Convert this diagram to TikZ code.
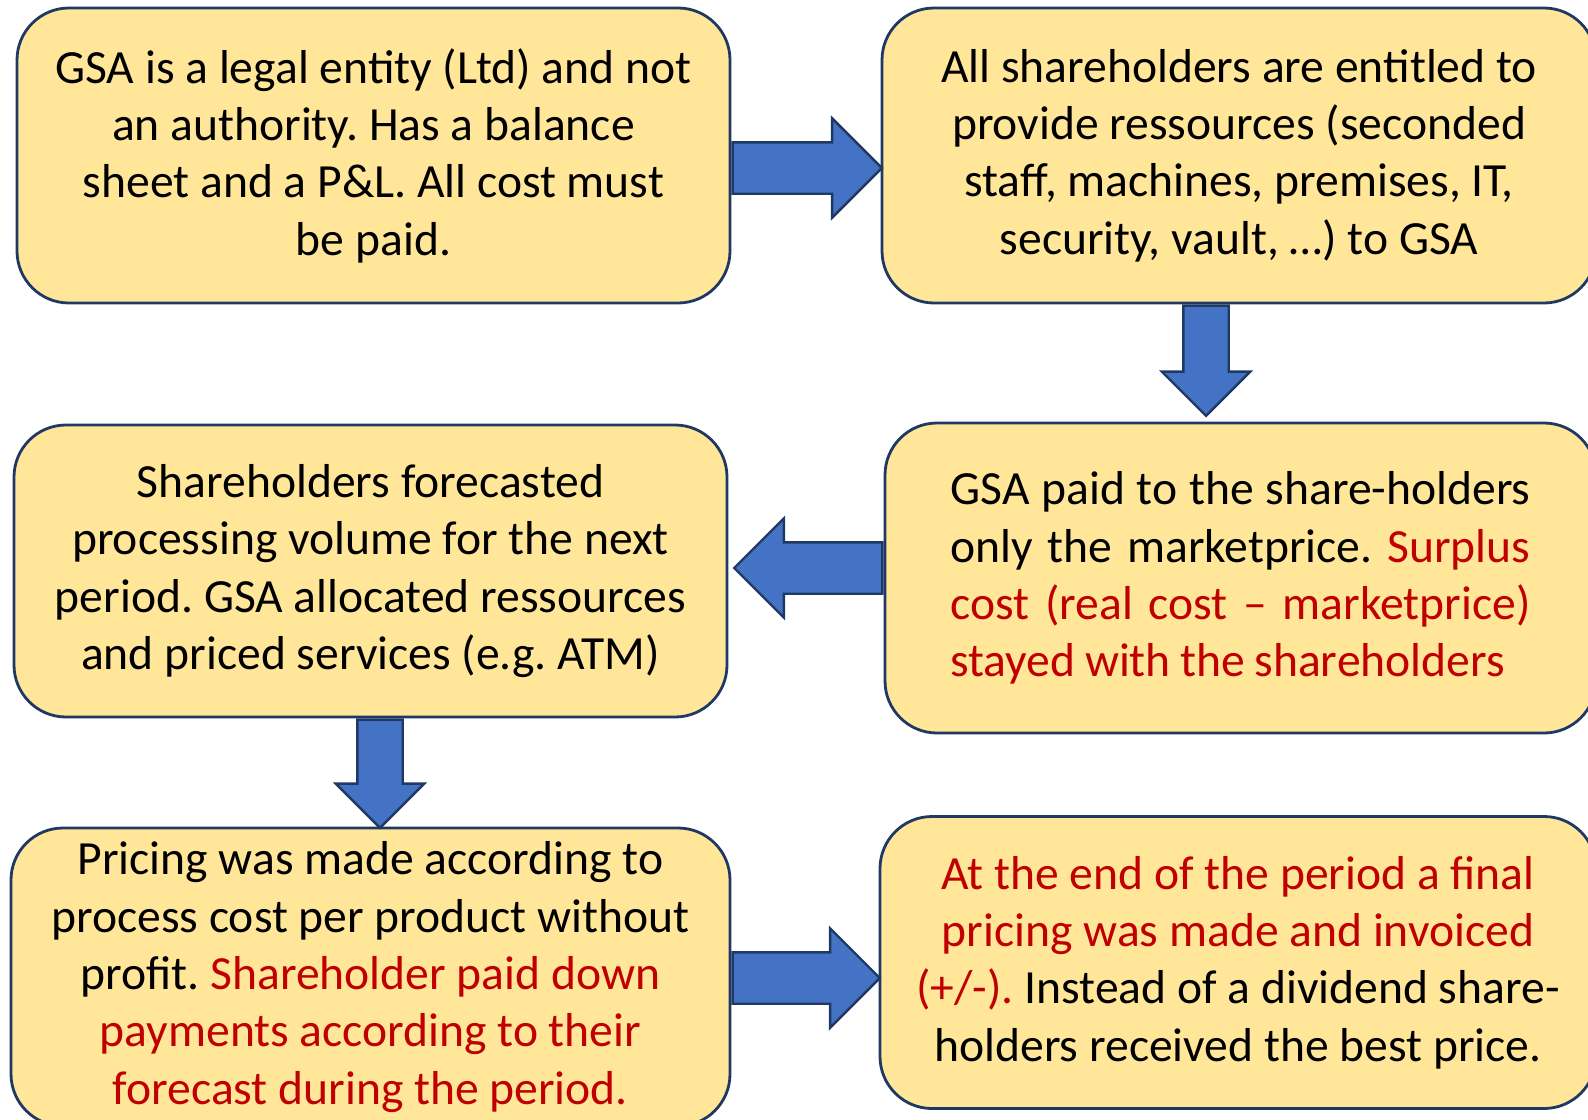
\documentclass[tikz,border=0pt]{standalone}
\usepackage{fontspec}
\setmainfont{Carlito}
\frenchspacing
\usetikzlibrary{shapes.arrows,calc}

\definecolor{cardfill}{HTML}{FFE699}
\definecolor{cardline}{HTML}{203864}
\definecolor{arrowfill}{HTML}{4472C4}
\definecolor{hilite}{HTML}{C00000}
\newcommand{\redtxt}[1]{\textcolor{hilite}{#1}}

% block arrow from tail #2 to tip #3
\newcommand{\flowarrow}[3][]{%
  \path let \p1=(#2), \p2=(#3),
    \n1={atan2(\y2-\y1,\x2-\x1)}, \n2={veclen(\x2-\x1,\y2-\y1)} in
    node[blockarrow, #1, minimum height=\n2, rotate=\n1, anchor=tail] at (\p1) {};}

\begin{document}
\begin{tikzpicture}[
  x=0.5pt,y=-0.5pt,
  card/.style={draw=cardline, fill=cardfill, line width=1.4pt, rounded corners=26pt,
    align=center, inner sep=0pt, minimum width=357pt,
    font=\fontsize{23.8pt}{28.65pt}\selectfont},
  blockarrow/.style={single arrow, draw=cardline, fill=arrowfill, line width=1.2pt,
    inner xsep=0pt, inner ysep=12.25pt, minimum width=0pt,
    single arrow head extend=12pt, single arrow tip angle=90},
  thinarrow/.style={inner ysep=10.75pt, single arrow head extend=10.75pt}
]
\useasboundingbox (0,0) rectangle (1588,1119);
\clip (0,0) rectangle (1588,1119);

\node[card, minimum height=147.5pt, minimum width=356.5pt] (entity) at (373.5,155.5)
  {GSA is a legal entity (Ltd) and not\\ an authority. Has a balance\\
   sheet and a P\&L. All cost must\\ be paid.};
\node[card, minimum height=147.5pt] (resources) at (1239,155.5)
  {All shareholders are entitled to\\ provide ressources (seconded\\
   staff, machines, premises, IT,\\ security, vault, …) to GSA};
\node[card, minimum height=155pt, minimum width=355.5pt, align=left, text width=290pt] (market) at (1240.5,578)
  {\spaceskip=0.2em plus 0.15em minus 0.04em\relax
   \makebox[290pt][s]{GSA paid to the share-holders}\\
   \makebox[290pt][s]{only the marketprice. \redtxt{Surplus}}\\
   \makebox[290pt][s]{\redtxt{cost (real cost – marketprice)}}\\
   \redtxt{stayed with the shareholders}};
\node[card, minimum height=146pt, minimum width=356.5pt] (forecast) at (370.5,571)
  {Shareholders forecasted\\ processing volume for the next\\
   period. GSA allocated ressources\\ and priced services (e.g. ATM)};
\node[card, minimum height=149pt, minimum width=359.5pt] (pricing) at (370.5,977)
  {Pricing was made according to\\ process cost per product without\\
   profit. \redtxt{Shareholder paid down}\\ \redtxt{payments according to their}\\
   \redtxt{forecast during the period.}};
\node[card, minimum height=146pt, minimum width=358pt] (settle) at (1238,962.5)
  {\redtxt{At the end of the period a final}\\ \redtxt{pricing was made and invoiced}\\
   \redtxt{(+/-).} Instead of a dividend share-\\ holders received the best price.};

% arrow ends on the box borders
\coordinate (r1a) at (entity.east |- 0,168);
\coordinate (r1b) at (resources.west |- 0,168);
\coordinate (d1a) at (resources.south -| 1206,0);
\coordinate (d1b) at ($(market.north -| 1206,0)+(0,-7)$);
\coordinate (l1a) at (market.west |- 0,568);
\coordinate (l1b) at ($(forecast.east |- 0,568)+(7,0)$);
\coordinate (d2a) at (forecast.south -| 380,0);
\coordinate (d2b) at (pricing.north -| 380,0);
\coordinate (r2a) at (pricing.east |- 0,978);
\coordinate (r2b) at (settle.west |- 0,978);

\foreach \a/\b in {r1a/r1b,l1a/l1b,r2a/r2b}{\flowarrow{\a}{\b}}
\foreach \a/\b in {d1a/d1b,d2a/d2b}{\flowarrow[thinarrow]{\a}{\b}}
\end{tikzpicture}
\end{document}
